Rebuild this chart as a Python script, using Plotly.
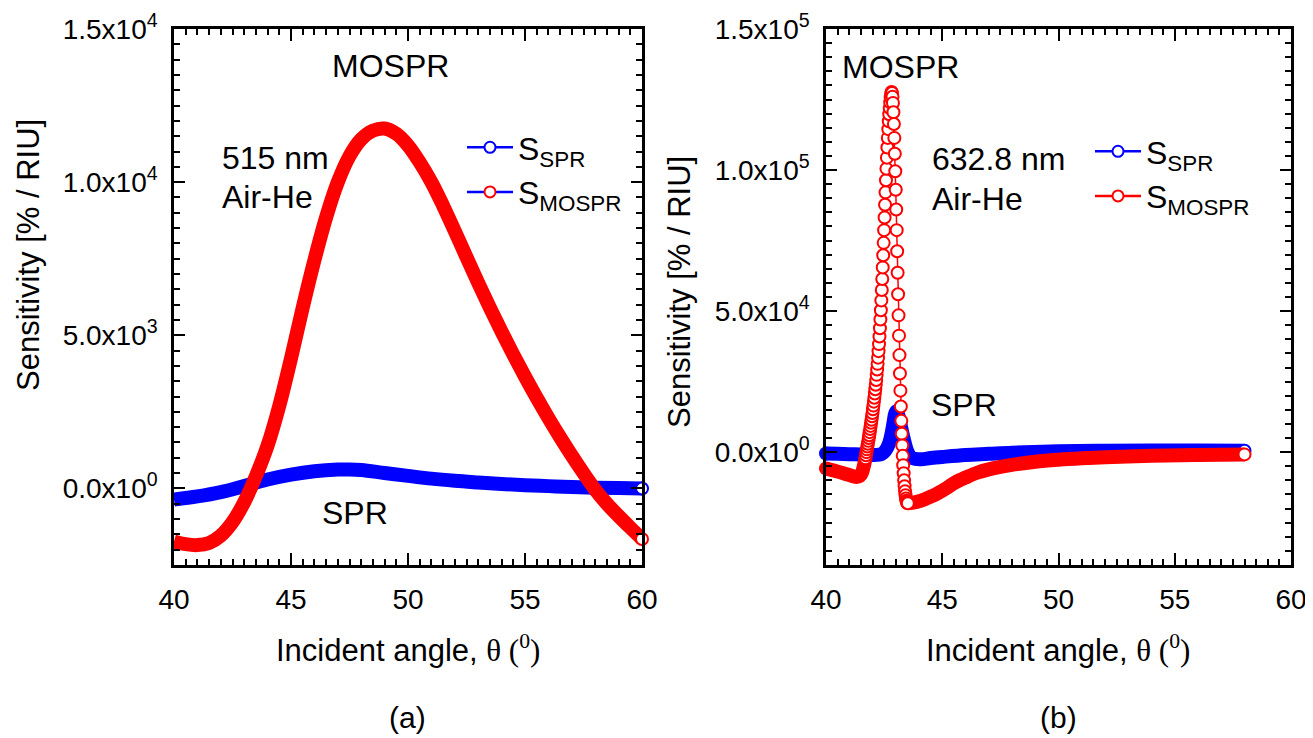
import plotly.graph_objects as go

# The page body has an 8 px margin, so the figure is made 8 px smaller
# and all layout positions below are given in window pixels.
OFF = 8
W, H = 1313 - OFF, 738 - OFF
FONT = "Liberation Sans"

# ---------------- Panel (a): 515 nm, Air-He ----------------
a_spr_x = [40, 41, 42, 43, 44, 45, 46, 47, 47.5, 48, 49, 50, 51, 52, 53, 54, 55, 56, 57, 58, 59, 60]
a_spr_y = [-360, -260, -120, 80, 290, 450, 560, 615, 620, 600, 505, 410, 320, 250, 195, 145, 105, 75, 45, 25, 10, 0]

a_mospr_x = [40, 40.5, 41, 41.5, 42, 42.5, 43, 43.5, 44, 44.5, 45, 45.5, 46, 46.5, 47, 47.5, 48, 48.5,
             49, 49.5, 50, 50.5, 51, 51.5, 52, 52.5, 53, 53.5, 54, 54.5, 55, 55.5, 56, 56.5, 57, 57.5,
             58, 58.5, 59, 59.5, 60]
a_mospr_y = [-1730, -1820, -1850, -1780, -1540, -1100, -450, 400, 1400, 2700, 4250, 5900, 7450, 8850,
             10000, 10850, 11400, 11680, 11750, 11580, 11200, 10650, 10000, 9230, 8400, 7550, 6710,
             5900, 5120, 4370, 3650, 2960, 2300, 1670, 1070, 500, -40, -500, -900, -1280, -1650]

# ---------------- Panel (b): 632.8 nm, Air-He ----------------
b_spr_x = [40, 40.5, 41, 41.5, 42, 42.4, 42.55, 42.7, 42.8, 42.9, 42.98, 43.04, 43.12, 43.2, 43.28,
           43.38, 43.5, 43.65, 43.85, 44.1, 44.5, 45, 46, 47, 48, 50, 52, 54, 56, 58]
b_spr_y = [-500, -600, -700, -850, -1000, -600, 500, 2800, 5800, 10200, 13800, 14500, 12800, 10000,
           7000, 3500, 200, -1800, -2400, -2500, -2100, -1700, -1000, -600, -200, 300, 500, 600, 600, 500]

b_mospr_x = [40, 40.5, 41, 41.3, 41.45, 41.55, 41.62, 41.66,
             41.70, 41.72, 41.74, 41.76, 41.78, 41.80, 41.82, 41.84, 41.86, 41.88, 41.90, 41.92, 41.94,
             41.96, 41.98, 42.00, 42.02, 42.04, 42.06, 42.08, 42.10, 42.12, 42.14, 42.16, 42.18, 42.20,
             42.22, 42.24, 42.26, 42.28, 42.30, 42.32, 42.34, 42.36, 42.38, 42.40, 42.42, 42.44, 42.46,
             42.48, 42.50, 42.52, 42.54, 42.56, 42.58, 42.60, 42.62, 42.64, 42.66, 42.68, 42.70, 42.72,
             42.74, 42.76, 42.78, 42.80, 42.82, 42.84, 42.86, 42.88, 42.90, 42.92, 42.94, 42.96, 42.98,
             43.00, 43.02, 43.04, 43.06, 43.08, 43.10, 43.12, 43.14, 43.16, 43.18, 43.20, 43.22, 43.24,
             43.26, 43.28, 43.30, 43.32, 43.34, 43.36, 43.38, 43.40, 43.42, 43.44, 43.46, 43.48, 43.50,
             43.52,
             43.6, 43.8, 44.0, 44.25, 44.5, 44.75, 45.0, 45.25, 45.5, 45.75, 46.0, 46.5, 47, 47.5, 48,
             49, 50, 51, 52, 54, 56, 58]
b_mospr_y = [-5800, -6900, -8100, -8800, -8500, -7200, -5200, -3800,
             -2200, -1100, 0, 1000, 2000, 3000, 4000, 5000, 6000, 7100, 8200, 9300, 10400,
             11500, 12700, 13900, 15200, 16500, 17900, 19300, 20800, 22300, 23900, 25600, 27400, 29300,
             31300, 33500, 35800, 38300, 41000, 43900, 47000, 50300, 53800, 57500, 61400, 65500, 69800,
             74200, 78700, 83200, 87700, 92100, 96400, 100500, 104400, 108000, 111400, 114500, 117300, 119800,
             122000, 124000, 125700, 127000, 127700, 127300, 126000, 123800, 120500, 116300, 111400, 105800, 99600,
             93000, 86000, 78700, 71200, 63600, 56000, 48500, 41300, 34400, 27900, 21800, 16200, 11100,
             6500, 2400, -1300, -4600, -7500, -10000, -12100, -13900, -15300, -16400, -17200, -17700, -18000,
             -18100,
             -18050, -17800, -17400, -16700, -15800, -14800, -13700, -12400, -11000, -9900, -9000, -7300,
             -6100, -5200, -4500, -3400, -2700, -2200, -1800, -1300, -1000, -800]

# tick labels
a_yticks = [0, 5000, 10000, 15000]
a_yticktext = ["0.0x10<sup>0</sup>", "5.0x10<sup>3</sup>", "1.0x10<sup>4</sup>", "1.5x10<sup>4</sup>"]
b_yticks = [0, 50000, 100000, 150000]
b_yticktext = ["0.0x10<sup>0</sup>", "5.0x10<sup>4</sup>", "1.0x10<sup>5</sup>", "1.5x10<sup>5</sup>"]
xticks = [40, 45, 50, 55, 60]

BLUE = "#0000ff"
RED = "#ff0000"
BAND = 14
MSIZE = 12


def px(xp):
    return (xp - OFF) / W


def py(yp):
    return 1 - (yp - OFF) / H


fig = go.Figure()

# ---- Panel (a) ----
fig.add_trace(go.Scatter(x=a_spr_x, y=a_spr_y, mode="lines", line=dict(color=BLUE, width=BAND, shape="spline"),
                         xaxis="x", yaxis="y", showlegend=False))
fig.add_trace(go.Scatter(x=a_mospr_x, y=a_mospr_y, mode="lines", line=dict(color=RED, width=BAND, shape="spline"),
                         xaxis="x", yaxis="y", showlegend=False))
fig.add_trace(go.Scatter(x=a_spr_x[-1:], y=a_spr_y[-1:], mode="markers", cliponaxis=False,
                         marker=dict(symbol="circle", size=MSIZE, color="white", line=dict(color=BLUE, width=2)),
                         xaxis="x", yaxis="y", showlegend=False))
fig.add_trace(go.Scatter(x=a_mospr_x[-1:], y=a_mospr_y[-1:], mode="markers", cliponaxis=False,
                         marker=dict(symbol="circle", size=MSIZE, color="white", line=dict(color=RED, width=2)),
                         xaxis="x", yaxis="y", showlegend=False))
# legend entries (a)
fig.add_trace(go.Scatter(x=[None], y=[None], mode="lines+markers", name="S<sub>SPR</sub>",
                         line=dict(color=BLUE, width=2.5),
                         marker=dict(symbol="circle", size=11, color="white", line=dict(color=BLUE, width=2)),
                         xaxis="x", yaxis="y", legend="legend"))
fig.add_trace(go.Scatter(x=[None], y=[None], mode="lines+markers", name="S<sub>MOSPR</sub>",
                         line=dict(color=BLUE, width=2.5),
                         marker=dict(symbol="circle", size=11, color="white", line=dict(color=RED, width=2)),
                         xaxis="x", yaxis="y", legend="legend"))

# ---- Panel (b) ----
fig.add_trace(go.Scatter(x=b_spr_x, y=b_spr_y, mode="lines", line=dict(color=BLUE, width=BAND, shape="spline"),
                         xaxis="x2", yaxis="y2", showlegend=False))
fig.add_trace(go.Scatter(x=b_spr_x[:1], y=b_spr_y[:1], mode="markers", cliponaxis=False,
                         marker=dict(symbol="circle", size=BAND, color=BLUE, line=dict(width=0)),
                         xaxis="x2", yaxis="y2", showlegend=False))
fig.add_trace(go.Scatter(x=b_spr_x[-1:], y=b_spr_y[-1:], mode="markers", cliponaxis=False,
                         marker=dict(symbol="circle", size=MSIZE, color="white", line=dict(color=BLUE, width=2)),
                         xaxis="x2", yaxis="y2", showlegend=False))

i0 = b_mospr_x.index(41.70)
i1 = b_mospr_x.index(43.52)
fig.add_trace(go.Scatter(x=b_mospr_x[:i0 + 1], y=b_mospr_y[:i0 + 1], mode="lines",
                         line=dict(color=RED, width=BAND, shape="spline"),
                         xaxis="x2", yaxis="y2", showlegend=False))
fig.add_trace(go.Scatter(x=b_mospr_x[i1:], y=b_mospr_y[i1:], mode="lines",
                         line=dict(color=RED, width=BAND, shape="spline"),
                         xaxis="x2", yaxis="y2", showlegend=False))
fig.add_trace(go.Scatter(x=b_mospr_x[:1], y=b_mospr_y[:1], mode="markers", cliponaxis=False,
                         marker=dict(symbol="circle", size=BAND, color=RED, line=dict(width=0)),
                         xaxis="x2", yaxis="y2", showlegend=False))
fig.add_trace(go.Scatter(x=b_mospr_x[i0:i1 + 1], y=b_mospr_y[i0:i1 + 1], mode="lines+markers",
                         line=dict(color=RED, width=1.5),
                         marker=dict(symbol="circle", size=MSIZE, color="white", line=dict(color=RED, width=2)),
                         xaxis="x2", yaxis="y2", showlegend=False))
fig.add_trace(go.Scatter(x=b_mospr_x[-1:], y=b_mospr_y[-1:], mode="markers", cliponaxis=False,
                         marker=dict(symbol="circle", size=MSIZE, color="white", line=dict(color=RED, width=2)),
                         xaxis="x2", yaxis="y2", showlegend=False))
# legend entries (b)
fig.add_trace(go.Scatter(x=[None], y=[None], mode="lines+markers", name="S<sub>SPR</sub>",
                         line=dict(color=BLUE, width=2.5),
                         marker=dict(symbol="circle", size=11, color="white", line=dict(color=BLUE, width=2)),
                         xaxis="x2", yaxis="y2", legend="legend2"))
fig.add_trace(go.Scatter(x=[None], y=[None], mode="lines+markers", name="S<sub>MOSPR</sub>",
                         line=dict(color=RED, width=2.5),
                         marker=dict(symbol="circle", size=11, color="white", line=dict(color=RED, width=2)),
                         xaxis="x2", yaxis="y2", legend="legend2"))

tickfont = dict(family=FONT, size=28, color="black")


def xaxis_cfg(domain, anchor):
    return dict(domain=domain, anchor=anchor, range=[40, 60], tickmode="array", tickvals=xticks,
                ticktext=[str(v) for v in xticks], ticks="inside", ticklen=12, tickwidth=2.2,
                tickcolor="black", showline=True, linecolor="black", linewidth=2.5, mirror="allticks",
                showgrid=False, zeroline=False, tickfont=tickfont, ticklabelstandoff=8, automargin=False,
                minor=dict(tickmode="linear", tick0=40, dtick=0.5, ticks="inside", ticklen=6,
                           tickwidth=1.8, tickcolor="black", showgrid=False))


def yaxis_cfg(domain, anchor, rng, vals, text, mdt):
    return dict(domain=domain, anchor=anchor, range=rng, tickmode="array", tickvals=vals, ticktext=text,
                ticks="inside", ticklen=11, tickwidth=2.2, tickcolor="black", showline=True,
                linecolor="black", linewidth=2.5, mirror="allticks", showgrid=False, zeroline=False,
                tickfont=tickfont, ticklabelstandoff=8, automargin=False,
                minor=dict(tickmode="linear", tick0=0, dtick=mdt, ticks="inside", ticklen=6,
                           tickwidth=1.8, tickcolor="black", showgrid=False))


ydom = [py(565), py(29)]
legfont = dict(family=FONT, size=32, color="black")
layout = dict(
    width=W, height=H, margin=dict(l=0, r=0, t=0, b=0, autoexpand=False),
    paper_bgcolor="white", plot_bgcolor="white",
    font=dict(family=FONT, color="black"),
    xaxis=xaxis_cfg([px(174), px(642)], "y"),
    yaxis=yaxis_cfg(ydom, "x", [-2500, 15000], a_yticks, a_yticktext, 500),
    xaxis2=xaxis_cfg([px(826), px(1291)], "y2"),
    yaxis2=yaxis_cfg(ydom, "x2", [-40000, 150000], b_yticks, b_yticktext, 5000),
    legend=dict(x=px(462), y=py(120), xanchor="left", yanchor="top", bgcolor="rgba(0,0,0,0)",
                font=legfont, tracegroupgap=0, itemwidth=46),
    legend2=dict(x=px(1090), y=py(124), xanchor="left", yanchor="top", bgcolor="rgba(0,0,0,0)",
                 font=legfont, tracegroupgap=0, itemwidth=46),
)
fig.update_layout(**layout)


def ann(text, xp, yp, size=32, xanchor="center", angle=0, fam=FONT):
    fig.add_annotation(text=text, x=px(xp), y=py(yp), xref="paper", yref="paper", showarrow=False,
                       xanchor=xanchor, yanchor="middle", textangle=angle,
                       font=dict(family=fam, size=size, color="black"))


theta = '<span style="font-family:Liberation Serif">θ (<sup>0</sup>)</span>'
# panel (a) texts
ann("MOSPR", 390, 66)
ann("515 nm", 220, 158, xanchor="left")
ann("Air-He", 220, 197, xanchor="left")
ann("SPR", 355, 513)
ann("Incident angle, " + theta, 408, 648, size=31)
ann("(a)", 408, 717, size=30)
ann("Sensitivity [% / RIU]", 28, 255, size=31, angle=-90)
# panel (b) texts
ann("MOSPR", 900, 67)
ann("632.8 nm", 930, 159, xanchor="left")
ann("Air-He", 930, 199, xanchor="left")
ann("SPR", 929, 405, xanchor="left")
ann("Incident angle, " + theta, 1058, 648, size=31)
ann("(b)", 1058, 717, size=30)
ann("Sensitivity [% / RIU]", 680, 292, size=31, angle=-90)

fig.write_html("out.html")
